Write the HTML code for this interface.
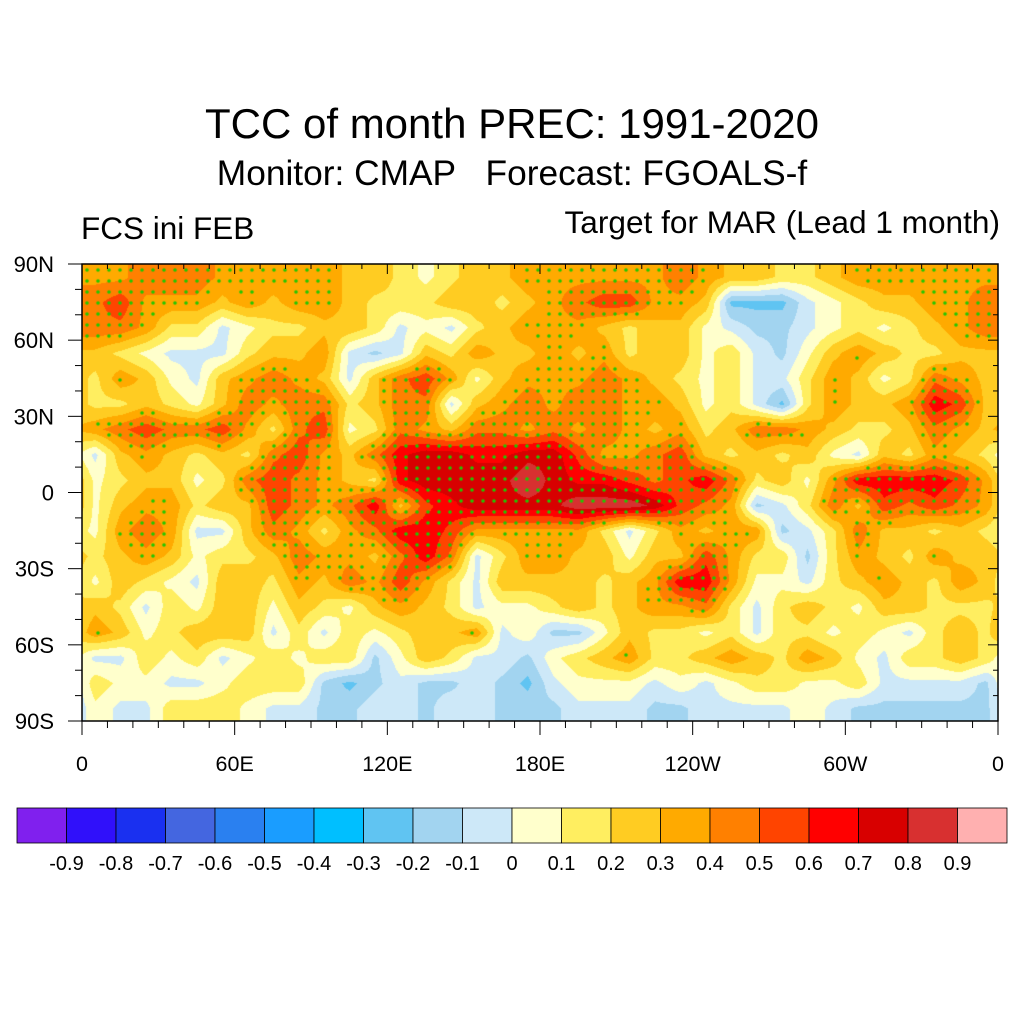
<!DOCTYPE html>
<html><head><meta charset="utf-8"><style>
body{margin:0;background:#fff;width:1024px;height:1024px;overflow:hidden;font-family:"Liberation Sans",sans-serif}
.t{position:absolute;white-space:nowrap;color:#000}
</style></head><body>
<div class="t" style="left:0;width:1024px;text-align:center;top:100px;font-size:42px">TCC of month PREC: 1991-2020</div>
<div class="t" style="left:0;width:1024px;text-align:center;top:154px;font-size:35.3px">Monitor: CMAP&nbsp;&nbsp;&nbsp;Forecast: FGOALS-f</div>
<div class="t" style="left:81px;top:210px;font-size:31.5px">FCS ini FEB</div>
<div class="t" style="right:24px;top:204px;font-size:31.6px">Target for MAR (Lead 1 month)</div>
<canvas id="map" width="916" height="457" style="position:absolute;left:82px;top:264px"></canvas>
<svg id="ax" width="1024" height="1024" style="position:absolute;left:0;top:0"></svg>
<script>
const lonLabels=["0","60E","120E","180E","120W","60W","0"];
const latLabels=["90N","60N","30N","0","30S","60S","90S"];
const cbLabels=["-0.9","-0.8","-0.7","-0.6","-0.5","-0.4","-0.3","-0.2","-0.1","0","0.1","0.2","0.3","0.4","0.5","0.6","0.7","0.8","0.9"];
const cbColors=["#8020ee","#3010fa","#1a30f0","#4466e0","#2a80f0","#1a9dff","#00bfff","#60c4f2","#a2d4f0","#cde8f8","#ffffcc","#ffee60","#ffcc22","#ffaa00","#ff8000","#ff4400","#ff0000","#d80000","#d83030","#ffb0b0"];
// TCC bins (tenths) per 10deg cell, rows 90N->90S, cols 0E->350E
const r0=[3,3,4,4,4,3,3,3,3,3,2,2,1,0,1,2,2,3,3,3,3,3,3,4,3,2,2,1,1,2,3,3,3,3,3,3];
const r1=[4,5,3,3,3,2,3,2,3,3,2,1,1,1,2,2,1,2,3,4,5,5,3,3,2,-3,-3,-3,-1,0,1,2,2,3,3,4];
const r2=[4,4,3,1,1,-1,0,1,1,2,2,1,-1,0,-1,1,2,3,3,3,2,1,2,2,0,-1,-2,-2,-1,0,1,0,1,2,3,4];
const r3=[2,1,0,-1,-1,-1,1,2,2,3,-1,-2,-1,2,1,3,2,2,3,2,3,1,2,2,0,1,-1,-2,0,2,3,2,1,1,2,2];
const r4=[1,3,2,0,-1,2,3,4,3,2,-1,2,4,5,3,0,2,3,3,3,4,3,2,1,0,1,-1,-1,1,3,2,0,1,4,3,2];
const r5=[1,1,2,1,0,2,4,3,4,4,1,2,4,4,-1,2,3,4,3,4,4,3,3,2,0,1,-1,-3,1,3,2,2,3,6,5,2];
const r6=[3,4,5,4,4,5,3,1,4,5,0,1,4,3,2,4,4,3,4,3,4,3,2,3,1,2,4,4,3,2,1,1,2,4,3,2];
const r7=[-1,2,3,2,1,2,1,4,5,3,2,4,6,7,7,6,6,7,7,5,3,3,4,5,2,1,2,1,2,0,-1,2,1,3,2,1];
const r8=[0,1,2,2,0,1,4,5,4,3,2,1,6,7,7,7,7,8,7,6,6,5,4,5,6,4,1,2,0,3,6,6,6,6,5,3];
const r9=[0,2,3,3,1,2,2,5,4,3,4,6,2,5,6,7,7,7,7,8,8,8,7,5,4,3,-2,-1,1,4,2,5,4,5,4,3];
const r10=[0,3,4,3,-1,-1,2,4,3,1,3,4,6,6,5,3,3,3,3,3,1,-1,1,3,2,3,3,-2,-1,1,4,2,2,1,2,1];
const r11=[1,2,3,2,0,1,1,2,4,3,3,2,4,6,4,-1,1,3,3,2,2,0,2,2,5,3,1,1,-2,1,3,2,1,3,2,2];
const r12=[0,2,1,0,-1,2,2,1,3,2,4,3,5,3,1,-1,2,2,2,2,1,2,3,6,6,3,0,0,-1,1,2,3,2,1,3,2];
const r13=[2,1,-1,1,0,2,2,0,2,1,0,2,3,2,1,-1,0,0,1,2,1,2,3,3,4,1,-1,1,2,1,0,2,2,1,1,1];
const r14=[3,2,0,1,2,2,2,-1,1,-1,1,0,1,2,2,3,-1,0,-2,-2,0,2,1,1,0,1,-1,1,1,0,1,0,-1,1,2,1];
const r15=[-1,-1,1,0,1,-1,0,1,0,1,1,-2,0,2,1,-1,-1,-2,0,1,2,3,1,1,2,3,2,1,3,2,0,-1,1,1,2,1];
const r16=[1,0,0,-1,-1,0,1,1,1,-2,-3,-2,-1,-2,-2,-1,-2,-3,-1,0,0,0,-1,0,-1,0,1,1,0,0,1,-1,-1,-1,-1,-2];
const r17=[0,-1,-1,1,1,1,0,-1,-1,-2,-2,-1,-1,-2,-1,-1,-2,-2,-2,-1,-1,-1,-2,-2,-1,-1,-1,-1,0,-1,-2,-2,-2,-2,-2,-2];
const grid=[r0,r1,r2,r3,r4,r5,r6,r7,r8,r9,r10,r11,r12,r13,r14,r15,r16,r17];

const X0=82,X1=998,Y0=264,Y1=721,W=X1-X0,H=Y1-Y0;
const xOfLon=l=>X0+l/360*W, yOfLat=a=>Y0+(90-a)/180*H;
const NR=grid.length,NC=grid[0].length;
function val(px,py){
  let fx=px/W*NC-0.5, fy=py/H*NR-0.5;
  fy=Math.max(0,Math.min(NR-1,fy));
  let i0=Math.floor(fy),i1=Math.min(NR-1,i0+1),ty=fy-i0;
  let j0=Math.floor(fx),tx=fx-j0; let ja=(j0+NC)%NC,jb=(j0+1)%NC;
  const g=(i,j)=>grid[i][j]+0.7;
  return (g(i0,ja)*(1-tx)+g(i0,jb)*tx)*(1-ty)+(g(i1,ja)*(1-tx)+g(i1,jb)*tx)*ty;
}
const hex=h=>[parseInt(h.slice(1,3),16),parseInt(h.slice(3,5),16),parseInt(h.slice(5,7),16)];
const rgb=cbColors.map(hex);
const cv=document.getElementById('map'),ctx=cv.getContext('2d');
const img=ctx.createImageData(W,H);
for(let y=0;y<H;y++)for(let x=0;x<W;x++){
  let k=Math.floor(val(x,y));k=Math.max(-10,Math.min(9,k));
  const c=rgb[k+10],o=(y*W+x)*4;img.data[o]=c[0];img.data[o+1]=c[1];img.data[o+2]=c[2];img.data[o+3]=255;}
ctx.putImageData(img,0,0);
for(let y=6;y<H;y+=11)for(let x=5;x<W;x+=11){
  const v=val(x,y);
  if(v>=3.4){ctx.fillStyle='#20c800';ctx.beginPath();ctx.arc(x,y,1.8,0,7);ctx.fill();}
  else if(v<=-2.6){ctx.fillStyle='#c020ff';ctx.beginPath();ctx.arc(x,y,1.8,0,7);ctx.fill();}
}
const NS='http://www.w3.org/2000/svg',svg=document.getElementById('ax');
function mk(t,a,txt){const e=document.createElementNS(NS,t);for(const k in a)e.setAttribute(k,a[k]);if(txt!==undefined)e.textContent=txt;svg.appendChild(e);return e;}
const fr=mk('rect',{x:X0,y:Y0,width:W,height:H,fill:'none',stroke:'#000','stroke-width':1.5});


for(let l=0;l<=360;l+=10){const x=xOfLon(l),maj=l%60==0;
  mk('line',{x1:x,x2:x,y1:Y1,y2:Y1+(maj?14:7),stroke:'#000'});
  mk('line',{x1:x,x2:x,y1:Y0,y2:Y0+(maj?10:5),stroke:'#000'});}
for(let a=-90;a<=90;a+=10){const y=yOfLat(a),maj=a%30==0;
  mk('line',{x1:X0,x2:X0-(maj?14:7),y1:y,y2:y,stroke:'#000'});
  mk('line',{x1:X1,x2:X1-(maj?10:5),y1:y,y2:y,stroke:'#000'});}
lonLabels.forEach((s,i)=>{const t=mk('text',{x:xOfLon(i*60),y:771,'font-size':21.5,'text-anchor':'middle','font-family':'Liberation Sans'},s);
  
  });
latLabels.forEach((s,i)=>{const t=mk('text',{x:54,y:yOfLat(90-i*30)+8,'font-size':22,'text-anchor':'end','font-family':'Liberation Sans'},s);
  
  });
const CB0=17,CB1=1007,CBW=(CB1-CB0)/cbColors.length;
cbColors.forEach((c,i)=>{const r=mk('rect',{x:CB0+i*CBW,y:808,width:CBW,height:35,fill:c,stroke:'#000','stroke-width':0.8});
  
  });
cbLabels.forEach((s,i)=>{const t=mk('text',{x:CB0+(i+1)*CBW,y:870,'font-size':20,'text-anchor':'middle','font-family':'Liberation Sans'},s);
  
  });
</script>
</body></html>
